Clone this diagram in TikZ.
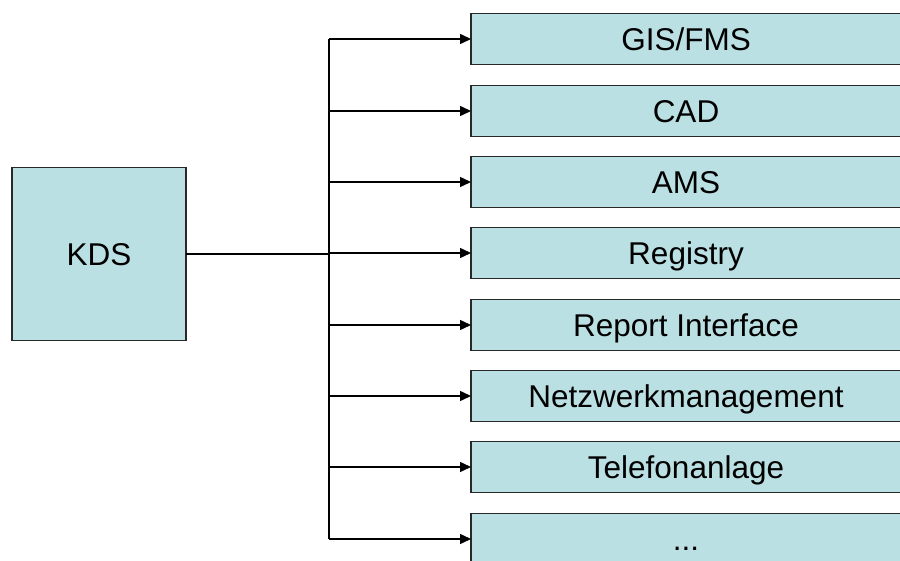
\documentclass[tikz,border=0pt]{standalone}
\usepackage{fontspec}
\setmainfont{Liberation Sans}
\usetikzlibrary{arrows.meta}
\definecolor{boxfill}{RGB}{187,224,227}
\definecolor{boxline}{RGB}{40,40,40}
\tikzset{
  kbox/.style={draw=boxline, line width=1.5pt, fill=boxfill, inner sep=0pt, outer sep=0pt},
  tbox/.style={kbox, minimum width=431pt, minimum height=51pt, anchor=west},
  conn/.style={line width=1.5pt, black},
  arr/.style={conn, -{Triangle[length=11pt,width=10pt]}},
  lbl/.style={font=\fontsize{31.5}{36}\selectfont, inner sep=0pt, anchor=base}
}
\begin{document}
\begin{tikzpicture}[x=1pt,y=-1pt]
\useasboundingbox (0,0) rectangle (900,561);
\begin{scope}
\clip (0,0) rectangle (900,561);
% KDS
\node[kbox, minimum width=174pt, minimum height=173pt] (kds) at (99,254) {};
\node[lbl] (kdst) at ([yshift=-11.5pt]kds.center) {KDS};
% target boxes
\node[tbox] (b1) at (471,39) {};
\node[tbox] (b2) at (471,111) {};
\node[tbox] (b3) at (471,182) {};
\node[tbox] (b4) at (471,253) {};
\node[tbox] (b5) at (471,325) {};
\node[tbox] (b6) at (471,396) {};
\node[tbox] (b7) at (471,467) {};
\node[tbox] (b8) at (471,539) {};
\node[lbl] (t1) at (686,50.5) {GIS/FMS};
\node[lbl] (t2) at (686,122.5) {CAD};
\node[lbl] (t3) at (686,193.5) {AMS};
\node[lbl] (t4) at (686,264.5) {Registry};
\node[lbl] (t5) at (686,336.5) {Report Interface};
\node[lbl] (t6) at (686,407.5) {Netzwerkmanagement};
\node[lbl] (t7) at (686,478.5) {Telefonanlage};
\node[lbl] (t8) at (686,550.5) {...};
\coordinate (junc) at (329,254);
\draw[conn] (kds.east) -- (junc);
\draw[conn] (junc |- b1.west) -- (junc |- b8.west);
\foreach \i in {1,...,8}{
  \draw[arr] (junc |- b\i.west) -- (b\i.west);
}
\end{scope}
\end{tikzpicture}
\end{document}
